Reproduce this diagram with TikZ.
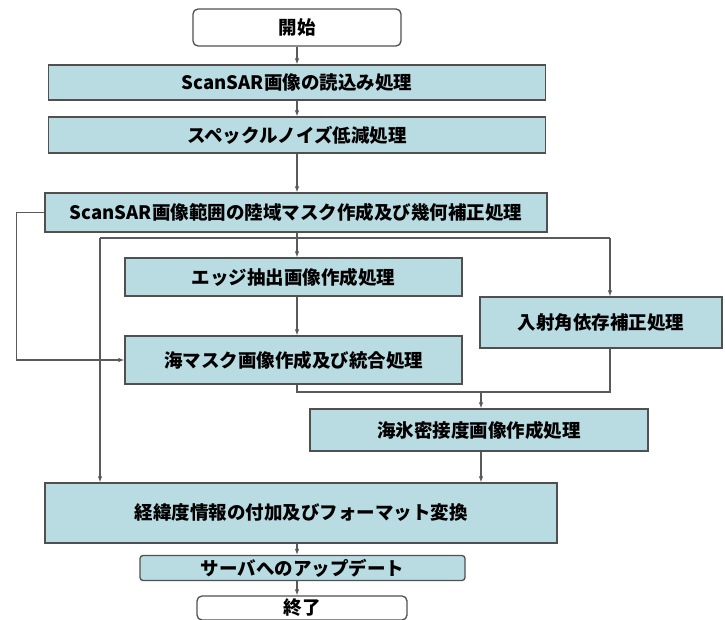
\documentclass[tikz,border=0pt]{standalone}
\usepackage{fontspec}
\setmainfont{Noto Sans CJK JP}
\usetikzlibrary{arrows.meta}
\definecolor{boxfill}{HTML}{B8DCE2}
\definecolor{edgec}{HTML}{505050}
\definecolor{linec}{HTML}{5A5A5A}
\tikzset{
  proc/.style={draw=edgec, fill=boxfill, line width=1.3pt, inner sep=0pt,
    font=\bfseries\fontsize{18.5}{22}\selectfont},
  term/.style={proc, fill=white, rounded corners=5pt},
  ln/.style={draw=linec, line width=1.1pt},
  arr/.style={ln, -{Latex[length=6pt,width=4.5pt]}}
}
\begin{document}
\begin{tikzpicture}[x=1pt,y=-1pt]
\useasboundingbox (0,0) rectangle (725,620);
\fill[white] (0,0) rectangle (725,620);
\node[term, minimum width=208, minimum height=37] (start) at (297,27.5) {開始};
\node[proc, minimum width=497, minimum height=35] (read) at (297,82.5) {ScanSAR画像の読込み処理};
\node[proc, minimum width=497, minimum height=36] (speckle) at (297,135) {スペックルノイズ低減処理};
\node[proc, minimum width=502, minimum height=39] (mask) at (296,212.5) {ScanSAR画像範囲の陸域マスク作成及び幾何補正処理};
\node[proc, minimum width=337, minimum height=38] (edge) at (293.5,277) {エッジ抽出画像作成処理};
\node[proc, minimum width=242, minimum height=51] (inc) at (601,322.5) {入射角依存補正処理};
\node[proc, minimum width=337, minimum height=48] (sea) at (293.5,360) {海マスク画像作成及び統合処理};
\node[proc, minimum width=338, minimum height=42] (ice) at (479,430) {海氷密接度画像作成処理};
\node[proc, minimum width=512, minimum height=60] (geo) at (301,513) {経緯度情報の付加及びフォーマット変換};
\node[proc, rounded corners=3pt, minimum width=325, minimum height=25] (server) at (302.5,568) {サーバへのアップデート};
\node[term, minimum width=210, minimum height=24] (end) at (302,608) {終了};
\coordinate (b) at (297,238);
\coordinate (bl) at (100,238);
\coordinate (br) at (610,238);
\coordinate (m) at (481,392);
\draw[arr] (start.south -| b) -- (read.north -| b);
\draw[arr] (read.south -| b) -- (speckle.north -| b);
\draw[arr] (speckle.south -| b) -- (mask.north -| b);
\draw[ln] (mask.south -| b) -- (b);
\draw[ln] (bl) -- (br);
\draw[arr] (b) -- (b |- edge.north);
\draw[arr] (bl) -- (bl |- geo.north);
\draw[arr] (br) -- (br |- inc.north);
\draw[arr] (mask.west) -- ++(-28,0) |- (sea.west);
\draw[arr] (edge.south -| b) -- (sea.north -| b);
\draw[ln] (sea.south -| b) |- (m -| br) -- (inc.south -| br);
\draw[arr] (m) -- (m |- ice.north);
\draw[arr] (ice.south -| m) -- (geo.north -| m);
\draw[arr] (geo.south -| b) -- (server.north -| b);
\draw[arr] (server.south -| b) -- (end.north -| b);
\end{tikzpicture}
\end{document}
